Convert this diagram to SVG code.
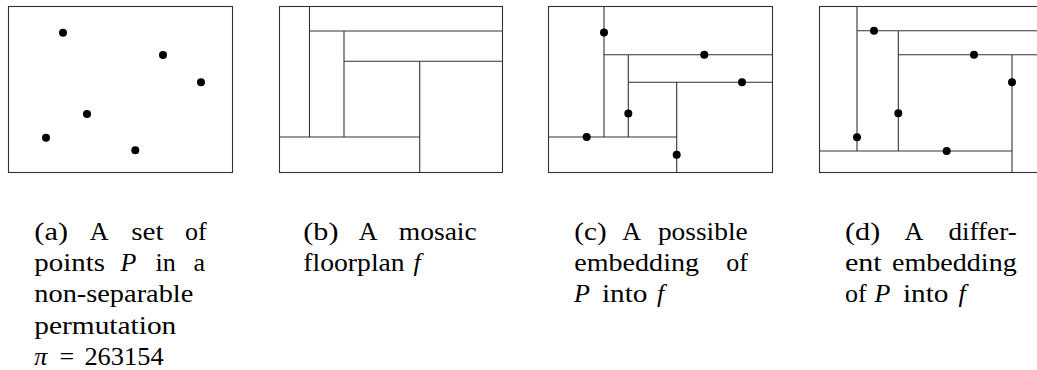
<svg xmlns="http://www.w3.org/2000/svg" width="1037" height="370" viewBox="0 0 1037 370">
<style>
.frame{fill:none;stroke:#333;stroke-width:1.1}
.seg{stroke:#333;stroke-width:1.1;fill:none}
.pt{fill:#000}
.it{font-style:italic}
</style>
<rect width="1037" height="370" fill="#fff"/>

<g id="panel-a">
<rect class="frame" x="8.5" y="6.5" width="224" height="166"/>
<circle class="pt" cx="63" cy="32.7" r="4"/>
<circle class="pt" cx="163" cy="55" r="4"/>
<circle class="pt" cx="201" cy="82.3" r="4"/>
<circle class="pt" cx="87" cy="114" r="4"/>
<circle class="pt" cx="46" cy="137.7" r="4"/>
<circle class="pt" cx="135.3" cy="150.3" r="4"/>
</g>

<g id="panel-b">
<rect class="frame" x="279.5" y="6.5" width="223" height="166"/>
<path class="seg" d="M309.5 6.5V137M309.5 31H502.5M344 31V137M344 61.3H502.5M419.7 61.3V172.5M279.5 137H419.7"/>
</g>

<g id="panel-c">
<rect class="frame" x="548.5" y="6.5" width="224" height="166"/>
<path class="seg" d="M604 6.5V137M604 54.7H772.5M628.3 54.7V137M628.3 82.3H772.5M676.7 82.3V172.5M548.5 137H676.7"/>
<circle class="pt" cx="604" cy="32.5" r="4"/>
<circle class="pt" cx="704.3" cy="54.7" r="4"/>
<circle class="pt" cx="742" cy="82.3" r="4"/>
<circle class="pt" cx="628.3" cy="113.5" r="4"/>
<circle class="pt" cx="586.7" cy="137" r="4"/>
<circle class="pt" cx="676.7" cy="154.7" r="4"/>
</g>

<g id="panel-d">
<rect class="frame" x="819.5" y="6.5" width="224" height="166"/>
<path class="seg" d="M857 6.5V151M857 30.7H1043M898.3 30.7V151M898.3 54.7H1043M1012 54.7V172.5M819.5 151H1012"/>
<circle class="pt" cx="874" cy="30.7" r="4"/>
<circle class="pt" cx="974" cy="54.7" r="4"/>
<circle class="pt" cx="1012" cy="82.3" r="4"/>
<circle class="pt" cx="898.3" cy="113.3" r="4"/>
<circle class="pt" cx="857" cy="137.3" r="4"/>
<circle class="pt" cx="946.7" cy="151" r="4"/>
</g>

<g id="caption-a" font-family="Liberation Serif, DejaVu Serif, serif" font-size="26" fill="#000">
<text x="34.3" y="239.5" textLength="33.7" lengthAdjust="spacingAndGlyphs">(a)</text>
<text x="89.7" y="239.5">A</text>
<text x="131.2" y="239.5" textLength="32.4" lengthAdjust="spacingAndGlyphs">set</text>
<text x="185" y="239.5">of</text>
<text x="34.3" y="271" textLength="70.6" lengthAdjust="spacingAndGlyphs">points</text>
<text x="120.5" y="271" class="it">P</text>
<text x="155.5" y="271">in</text>
<text x="193.5" y="271">a</text>
<text x="34.3" y="302" textLength="159" lengthAdjust="spacingAndGlyphs">non-separable</text>
<text x="34.3" y="333.5" textLength="142" lengthAdjust="spacingAndGlyphs">permutation</text>
<text x="34.3" y="365" class="it">π</text>
<text x="59.5" y="365">=</text>
<text x="84.4" y="365" textLength="79.2" lengthAdjust="spacingAndGlyphs">263154</text>
</g>

<g id="caption-b" font-family="Liberation Serif, DejaVu Serif, serif" font-size="26" fill="#000">
<text x="303.3" y="239.5" textLength="35.2" lengthAdjust="spacingAndGlyphs">(b)</text>
<text x="358.8" y="239.5">A</text>
<text x="398.8" y="239.5" textLength="77.9" lengthAdjust="spacingAndGlyphs">mosaic</text>
<text x="303.3" y="271" textLength="101.4" lengthAdjust="spacingAndGlyphs">floorplan</text>
<text x="413.5" y="271" class="it">f</text>
</g>

<g id="caption-c" font-family="Liberation Serif, DejaVu Serif, serif" font-size="26" fill="#000">
<text x="574.3" y="239.5" textLength="32.3" lengthAdjust="spacingAndGlyphs">(c)</text>
<text x="622.3" y="239.5">A</text>
<text x="657.9" y="239.5" textLength="89.8" lengthAdjust="spacingAndGlyphs">possible</text>
<text x="574.3" y="271" textLength="124.7" lengthAdjust="spacingAndGlyphs">embedding</text>
<text x="726.2" y="271">of</text>
<text x="574" y="302" class="it">P</text>
<text x="602" y="302" textLength="45.5" lengthAdjust="spacingAndGlyphs">into</text>
<text x="657" y="302" class="it">f</text>
</g>

<g id="caption-d" font-family="Liberation Serif, DejaVu Serif, serif" font-size="26" fill="#000">
<text x="845" y="239.5" textLength="35.2" lengthAdjust="spacingAndGlyphs">(d)</text>
<text x="904.4" y="239.5">A</text>
<text x="948.4" y="239.5" textLength="68.3" lengthAdjust="spacingAndGlyphs">differ-</text>
<text x="845" y="271" textLength="36.7" lengthAdjust="spacingAndGlyphs">ent</text>
<text x="892" y="271" textLength="124.7" lengthAdjust="spacingAndGlyphs">embedding</text>
<text x="845" y="302">of</text>
<text x="874.5" y="302" class="it">P</text>
<text x="903" y="302" textLength="45.5" lengthAdjust="spacingAndGlyphs">into</text>
<text x="958.5" y="302" class="it">f</text>
</g>
</svg>
